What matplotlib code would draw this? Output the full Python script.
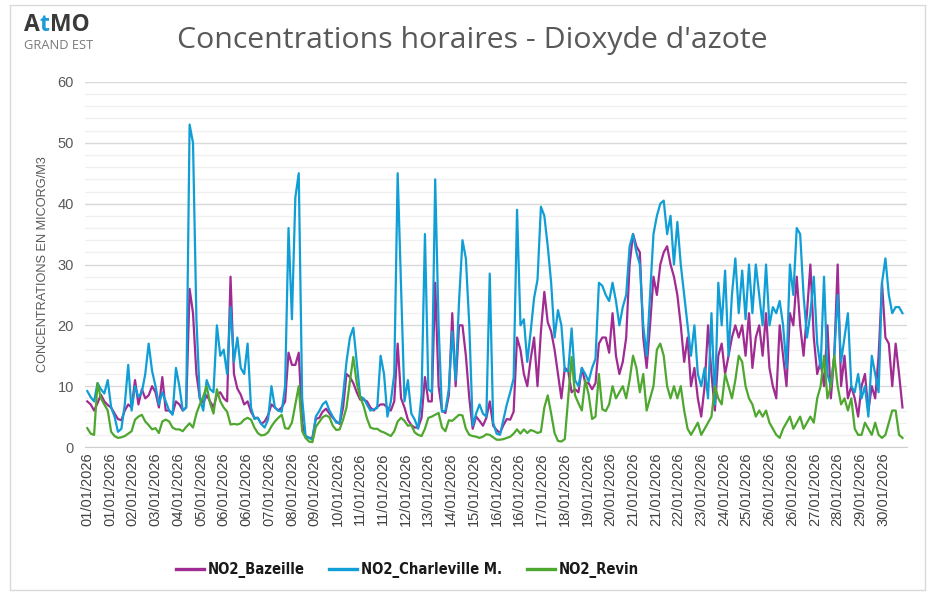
import numpy as np
import matplotlib
matplotlib.use("Agg")
import matplotlib.pyplot as plt
from matplotlib.patches import Rectangle
from matplotlib import font_manager as fm

# hourly data, read every 3 hours (01/01/2026 00h -> 30/01/2026 21h)
hours = np.arange(0, 720, 3)

bazeille = [
    7.5, 7.0, 6.0, 7.2, 8.6, 7.5, 6.9, 6.5,        # 01/01
    5.5, 4.6, 4.4, 6.0, 7.0, 6.5, 11.0, 7.0,       # 02/01
    9.5, 8.0, 8.5, 10.0, 9.0, 6.5, 11.5, 6.0,      # 03/01
    6.0, 5.5, 7.5, 7.0, 6.0, 6.5, 26.0, 22.0,      # 04/01
    12.0, 8.0, 7.3, 8.5, 7.5, 6.5, 8.6, 9.0,       # 05/01
    8.0, 7.5, 28.0, 12.0, 9.6, 8.6, 7.0, 7.5,      # 06/01
    5.8, 4.8, 4.8, 3.8, 4.2, 5.2, 7.0, 6.5,        # 07/01
    6.0, 6.5, 7.5, 15.5, 13.5, 13.5, 15.5, 4.0,    # 08/01
    1.8, 1.5, 1.5, 4.6, 4.8, 5.8, 6.3, 5.5,        # 09/01
    4.8, 4.2, 3.8, 6.5, 12.0, 11.5, 10.5, 9.0,     # 10/01
    7.8, 7.8, 7.5, 6.5, 6.0, 6.6, 7.0, 7.0,        # 11/01
    6.5, 6.0, 7.5, 17.0, 8.0, 6.5, 4.5, 3.6,       # 12/01
    3.2, 3.2, 4.8, 11.5, 7.5, 7.5, 27.0, 10.0,     # 13/01
    6.0, 5.6, 8.5, 22.0, 10.0, 20.0, 20.0, 15.0,   # 14/01
    8.0, 3.0, 5.0, 4.3, 3.5, 4.8, 7.5, 3.5,        # 15/01
    2.8, 2.3, 3.6, 4.6, 4.5, 5.8, 18.0, 16.0,      # 16/01
    12.0, 10.0, 14.5, 18.0, 10.0, 19.0, 25.5, 20.5,  # 17/01
    19.0, 16.0, 12.0, 8.0, 13.0, 12.5, 9.0, 9.5,   # 18/01
    9.0, 13.0, 10.5, 10.5, 9.5, 10.5, 17.0, 18.0,  # 19/01
    18.0, 15.5, 22.0, 15.0, 12.0, 14.0, 18.0, 30.0,  # 20/01
    35.0, 33.0, 32.0, 18.0, 13.0, 20.0, 28.0, 25.0,  # 21/01
    30.0, 32.0, 33.0, 30.0, 28.0, 25.0, 20.0, 14.0,  # 22/01
    18.0, 10.0, 13.0, 8.0, 5.0, 10.0, 20.0, 12.0,  # 23/01
    6.0, 15.0, 17.0, 12.0, 15.0, 18.0, 20.0, 18.0,  # 24/01
    20.0, 15.0, 22.0, 13.0, 18.0, 20.0, 15.0, 22.0,  # 25/01
    13.0, 10.0, 8.0, 20.0, 15.0, 10.0, 22.0, 20.0,  # 26/01
    28.0, 20.0, 15.0, 22.0, 30.0, 18.0, 12.0, 14.0,  # 27/01
    10.0, 20.0, 8.0, 15.0, 30.0, 10.0, 15.0, 8.0,  # 28/01
    10.0, 8.0, 5.0, 10.0, 12.0, 6.0, 10.0, 8.0,    # 29/01
    15.0, 27.0, 18.0, 17.0, 10.0, 17.0, 12.0, 6.5,  # 30/01
]

charleville = [
    9.2, 8.2, 7.5, 10.5, 9.5, 8.8, 11.0, 6.5,      # 01/01
    5.0, 2.5, 3.0, 7.0, 13.5, 6.0, 10.0, 8.2,      # 02/01
    9.0, 12.0, 17.0, 12.5, 10.0, 7.0, 9.0, 7.5,    # 03/01
    6.0, 5.3, 13.0, 10.0, 6.0, 6.5, 53.0, 50.0,    # 04/01
    21.0, 8.0, 6.0, 11.0, 9.5, 9.0, 20.0, 15.0,    # 05/01
    16.0, 12.0, 23.0, 14.0, 18.0, 13.0, 12.0, 17.0,  # 06/01
    6.5, 4.6, 4.8, 3.8, 3.2, 4.5, 10.0, 6.5,       # 07/01
    6.0, 5.8, 10.0, 36.0, 21.0, 41.0, 45.0, 8.0,   # 08/01
    1.8, 1.5, 1.2, 5.0, 5.9, 7.0, 7.5, 6.0,        # 09/01
    5.0, 4.0, 4.0, 8.5, 14.0, 18.0, 19.6, 14.0,    # 10/01
    8.3, 8.0, 7.0, 6.0, 6.2, 6.4, 15.0, 12.0,      # 11/01
    5.0, 7.5, 12.0, 45.0, 26.0, 7.5, 11.0, 5.5,    # 12/01
    4.5, 3.0, 8.5, 35.0, 9.5, 9.0, 44.0, 20.0,     # 13/01
    5.8, 6.0, 9.5, 19.0, 11.0, 24.0, 34.0, 31.0,   # 14/01
    20.0, 3.5, 5.5, 7.0, 5.5, 5.0, 28.5, 4.0,      # 15/01
    2.2, 2.0, 4.5, 7.0, 9.0, 11.3, 39.0, 20.0,     # 16/01
    21.0, 14.0, 19.0, 24.5, 27.5, 39.5, 38.0, 33.0,  # 17/01
    27.0, 18.0, 22.5, 20.0, 12.5, 12.5, 19.5, 11.0,  # 18/01
    10.0, 13.0, 12.0, 10.8, 13.0, 14.5, 27.0, 26.5,  # 19/01
    25.0, 24.0, 27.0, 24.0, 20.0, 23.0, 25.0, 33.0,  # 20/01
    35.0, 32.0, 30.0, 20.0, 15.0, 25.0, 35.0, 38.0,  # 21/01
    40.0, 40.5, 35.0, 38.0, 30.0, 37.0, 30.0, 25.0,  # 22/01
    20.0, 15.0, 20.0, 12.0, 10.0, 13.0, 8.0, 22.0,  # 23/01
    7.0, 27.0, 20.0, 29.0, 15.0, 25.0, 31.0, 22.0,  # 24/01
    29.0, 21.0, 30.0, 22.0, 30.0, 25.0, 20.0, 30.0,  # 25/01
    20.0, 23.0, 22.0, 24.0, 20.0, 13.0, 30.0, 25.0,  # 26/01
    36.0, 35.0, 25.0, 18.0, 22.0, 28.0, 17.0, 13.0,  # 27/01
    28.0, 12.0, 10.0, 15.0, 25.0, 14.0, 18.0, 22.0,  # 28/01
    10.0, 9.0, 12.0, 8.0, 10.0, 5.0, 15.0, 12.0,   # 29/01
    9.0, 27.0, 31.0, 25.0, 22.0, 23.0, 23.0, 22.0,  # 30/01
]

revin = [
    3.1, 2.2, 2.0, 10.5, 8.0, 7.0, 6.0, 2.5,       # 01/01
    1.8, 1.5, 1.6, 1.8, 2.2, 2.6, 4.5, 5.0,        # 02/01
    5.3, 4.2, 3.6, 2.9, 3.1, 2.3, 4.2, 4.5,        # 03/01
    4.2, 3.2, 2.9, 2.9, 2.6, 3.3, 3.9, 3.2,        # 04/01
    5.5, 7.0, 8.3, 10.0, 7.2, 5.5, 9.5, 7.5,       # 05/01
    6.5, 5.8, 3.7, 3.8, 3.7, 3.9, 4.5, 4.8,        # 06/01
    4.5, 3.2, 2.3, 1.9, 2.0, 2.4, 3.4, 4.2,        # 07/01
    4.8, 5.3, 3.1, 3.0, 4.0, 7.0, 10.0, 2.6,       # 08/01
    1.5, 0.9, 0.8, 3.3, 4.1, 4.9, 5.2, 4.9,        # 09/01
    3.5, 2.8, 2.9, 4.5, 6.5, 10.8, 14.8, 10.5,     # 10/01
    8.2, 6.8, 4.7, 3.2, 3.0, 3.0, 2.6, 2.4,        # 11/01
    2.1, 1.8, 2.6, 4.2, 4.8, 4.3, 3.5, 3.6,        # 12/01
    2.4, 2.0, 1.8, 3.0, 4.8, 5.0, 5.3, 5.6,        # 13/01
    3.2, 2.6, 4.4, 4.3, 4.8, 5.3, 5.2, 3.0,        # 14/01
    2.0, 1.8, 1.7, 1.5, 1.7, 2.1, 2.0, 1.6,        # 15/01
    1.2, 1.2, 1.3, 1.5, 1.7, 2.2, 2.9, 2.2,        # 16/01
    2.9, 2.3, 2.8, 2.6, 2.3, 2.5, 6.5, 8.5,        # 17/01
    5.5, 2.3, 1.0, 0.9, 1.3, 8.0, 14.8, 8.5,       # 18/01
    7.2, 6.0, 11.0, 8.6, 4.6, 5.0, 12.0, 6.2,      # 19/01
    5.9, 7.0, 10.0, 8.0, 9.0, 10.0, 8.0, 11.0,     # 20/01
    15.0, 13.0, 9.0, 12.0, 6.0, 8.0, 10.0, 16.0,   # 21/01
    17.0, 15.0, 10.0, 8.0, 10.0, 8.0, 10.0, 6.0,   # 22/01
    3.0, 2.0, 3.0, 4.0, 2.0, 3.0, 4.0, 5.0,        # 23/01
    10.0, 8.0, 7.0, 12.0, 10.0, 8.0, 11.0, 15.0,   # 24/01
    14.0, 10.0, 8.0, 7.0, 5.0, 6.0, 5.0, 6.0,      # 25/01
    4.0, 3.0, 2.0, 1.5, 3.0, 4.0, 5.0, 3.0,        # 26/01
    4.0, 5.0, 3.0, 4.0, 5.0, 4.0, 8.0, 10.0,       # 27/01
    15.0, 8.0, 10.0, 15.0, 10.0, 7.0, 8.0, 6.0,    # 28/01
    8.0, 3.0, 2.0, 2.0, 4.0, 3.0, 2.0, 4.0,        # 29/01
    2.0, 1.5, 2.0, 4.0, 6.0, 6.0, 2.0, 1.5,        # 30/01
]

tick_hours = np.arange(0, 720, 20)
tick_labels = [
    "01/01/2026", "01/01/2026", "02/01/2026", "03/01/2026", "04/01/2026",
    "05/01/2026", "06/01/2026", "06/01/2026", "07/01/2026", "08/01/2026",
    "09/01/2026", "10/01/2026", "11/01/2026", "11/01/2026", "12/01/2026",
    "13/01/2026", "14/01/2026", "15/01/2026", "16/01/2026", "16/01/2026",
    "17/01/2026", "18/01/2026", "19/01/2026", "20/01/2026", "21/01/2026",
    "21/01/2026", "22/01/2026", "23/01/2026", "24/01/2026", "25/01/2026",
    "26/01/2026", "26/01/2026", "27/01/2026", "28/01/2026", "29/01/2026",
    "30/01/2026",
]

series = [
    ("NO2_Bazeille", bazeille, "#a02b93"),
    ("NO2_Charleville M.", charleville, "#0f9ed5"),
    ("NO2_Revin", revin, "#4ea72e"),
]

fig = plt.figure(figsize=(9.32, 5.95), dpi=100)
ax = fig.add_axes([0.0912, 0.2487, 0.882, 0.6135])

for name, vals, col in series:
    ax.plot(hours, vals, color=col, lw=1.6, label=name, solid_joinstyle="round")

ax.set_xlim(-2, 721)
ax.set_ylim(0, 60)
ax.set_yticks(np.arange(0, 61, 10))
ax.set_yticks(np.arange(0, 61, 2), minor=True)
ax.grid(axis="y", which="major", color="#d9d9d9", lw=1)
ax.grid(axis="y", which="minor", color="#f0f0f0", lw=1)
ax.set_axisbelow(True)
ax.set_xticks(tick_hours)
ax.set_xticklabels(tick_labels, rotation=90, fontsize=10.5, color="#404040",
                   family=["Liberation Sans", "DejaVu Sans"])
for lab in ax.get_yticklabels():
    lab.set_fontsize(10.5)
    lab.set_color("#595959")
    lab.set_family(["Liberation Sans", "DejaVu Sans"])
ax.tick_params(axis="both", which="both", length=0)
ax.tick_params(axis="y", pad=8)
ax.tick_params(axis="x", pad=4)
for s in ["top", "right", "left"]:
    ax.spines[s].set_visible(False)
ax.spines["bottom"].set_color("#d0d0d0")

ax.set_ylabel("CONCENTRATIONS EN MICORG/M3", fontsize=9.2, color="#595959",
              family=["Liberation Sans", "DejaVu Sans"], labelpad=6)

fig.text(0.5066, 0.932, "Concentrations horaires - Dioxyde d'azote", ha="center", va="center",
         fontsize=21.8, color="#595959", family=["Open Sans", "DejaVu Sans"])

# logo, letters placed one after the other
r = fig.canvas.get_renderer()
x = 24 / 932
for txt, col in [("A", "#3a3a3a"), ("t", "#1d9bd8"), ("MO", "#3a3a3a")]:
    t = fig.text(x, 0.9575, txt, fontsize=16.5, fontweight="bold", color=col,
                 family=["Open Sans", "DejaVu Sans"], va="center")
    bb = t.get_window_extent(r)
    x = bb.x1 / fig.bbox.width
fig.text(24 / 932, 0.923, "GRAND EST", fontsize=9.3, color="#7a7a7a",
         family=["Open Sans", "DejaVu Sans"], va="center")

fig.patches.append(Rectangle((0.011, 0.008), 0.982, 0.984, transform=fig.transFigure,
                             fill=False, edgecolor="#d9d9d9", lw=1))

# legend: condensed bold if the system has it
cond = fm.FontProperties(family="DejaVu Sans", stretch="condensed", weight="bold", size=10.6)
if "Condensed" in fm.findfont(cond, fallback_to_default=True):
    leg_prop = cond
    hl, cs = 1.9, 1.7
else:
    leg_prop = fm.FontProperties(family="Liberation Sans", weight="bold", size=9.6)
    hl, cs = 2.1, 1.9

leg = fig.legend(loc="center", bbox_to_anchor=(0.437, 0.042), ncol=3, frameon=False,
                 handlelength=hl, columnspacing=cs, handletextpad=0.25, prop=leg_prop)
for t in leg.get_texts():
    t.set_color("#1a1a1a")
for h in leg.get_lines():
    h.set_linewidth(2.4)

fig.savefig("out.png", dpi=100)
